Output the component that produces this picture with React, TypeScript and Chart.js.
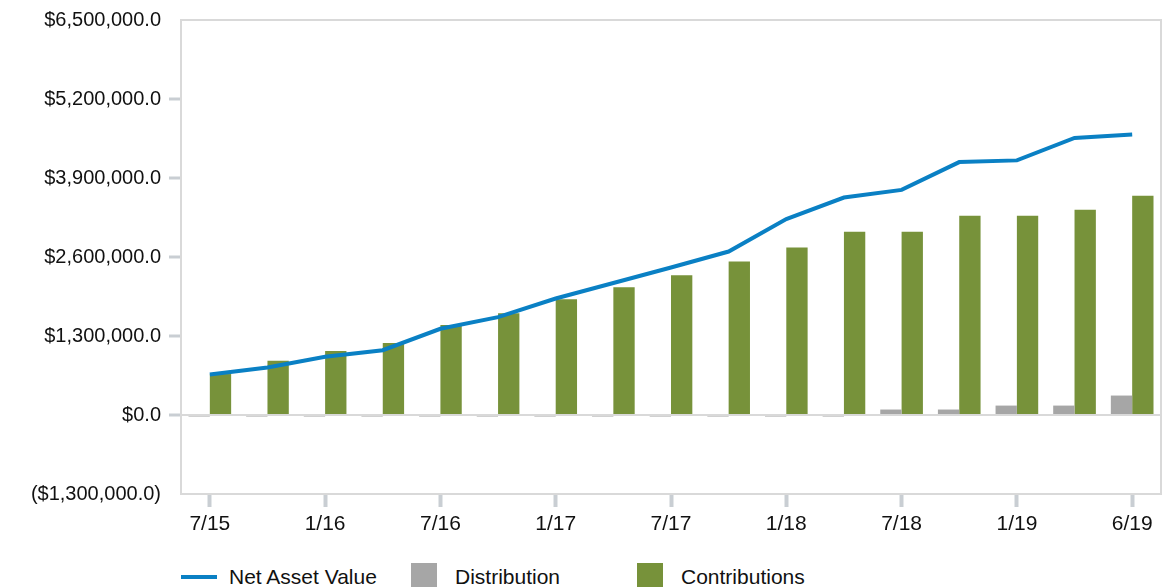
import React, { useEffect, useRef } from "react";
import { Chart, registerables } from "chart.js";

Chart.register(...registerables);

const categories = [
  "7/15", "10/15", "1/16", "4/16", "7/16", "10/16", "1/17", "4/17", "7/17",
  "10/17", "1/18", "4/18", "7/18", "10/18", "1/19", "4/19", "6/19",
];
// only every other category is labelled on the axis
const labelledIndex = [0, 2, 4, 6, 8, 10, 12, 14, 16];

const netAssetValue = [
  667000, 782000, 957000, 1066000, 1419000, 1611000, 1917000, 2172000, 2428000,
  2690000, 3225000, 3578000, 3704000, 4162000, 4190000, 4559000, 4615000,
];
const distribution = [
  -25000, -25000, -25000, -25000, -25000, -25000, -25000, -25000, -25000,
  -25000, -25000, -25000, 90000, 90000, 155000, 155000, 320000,
];
const contributions = [
  674000, 891000, 1055000, 1186000, 1480000, 1676000, 1905000, 2101000, 2298000,
  2527000, 2756000, 3017000, 3017000, 3279000, 3279000, 3377000, 3606000,
];

const yMin = -1300000;
const yMax = 6500000;
const yStep = 1300000;

const seriesNames = ["Net Asset Value", "Distribution", "Contributions"];
const colors = { nav: "#0a80c4", dist: "#a6a6a6", contrib: "#77923a" };

const FONT = "'Liberation Sans', Arial, Helvetica, sans-serif";

function formatMoney(v: number): string {
  const abs = Math.abs(v);
  const s =
    "$" +
    abs.toLocaleString("en-US", { minimumFractionDigits: 1, maximumFractionDigits: 1 });
  return v < 0 ? "(" + s + ")" : s;
}

const borderPlugin = {
  id: "plotBorder",
  beforeDatasetsDraw(chart: any) {
    const { ctx, chartArea } = chart;
    ctx.save();
    ctx.strokeStyle = "#d9d9d9";
    ctx.lineWidth = 2;
    ctx.strokeRect(chartArea.left, chartArea.top, chartArea.right - chartArea.left, chartArea.bottom - chartArea.top);
    ctx.restore();
  },
};

export default function App() {
  const canvasRef = useRef<HTMLCanvasElement | null>(null);

  useEffect(() => {
    if (!canvasRef.current) return;
    const chart = new Chart(canvasRef.current, {
      type: "bar",
      data: {
        labels: categories,
        datasets: [
          {
            type: "line",
            label: seriesNames[0],
            data: netAssetValue,
            borderColor: colors.nav,
            backgroundColor: colors.nav,
            borderWidth: 4,
            pointRadius: 0,
            tension: 0,
            order: 0,
          } as any,
          {
            type: "bar",
            label: seriesNames[1],
            data: distribution,
            backgroundColor: colors.dist,
            barPercentage: 1,
            categoryPercentage: 0.74,
            order: 1,
          },
          {
            type: "bar",
            label: seriesNames[2],
            data: contributions,
            backgroundColor: colors.contrib,
            barPercentage: 1,
            categoryPercentage: 0.74,
            order: 2,
          },
        ],
      },
      options: {
        responsive: false,
        animation: false,
        layout: { padding: { top: 17, right: 9, bottom: 0, left: 0 } },
        plugins: {
          legend: { display: false },
          tooltip: { enabled: false },
        },
        scales: {
          x: {
            offset: true,
            border: { display: false },
            grid: {
              offset: false,
              drawOnChartArea: false,
              drawTicks: true,
              tickLength: 13,
              tickWidth: 4,
              tickColor: (ctx: any) =>
                labelledIndex.includes(ctx.index) ? "#c9ced3" : "rgba(0,0,0,0)",
            } as any,
            ticks: {
              autoSkip: false,
              maxRotation: 0,
              padding: 5,
              color: "#111",
              font: { family: FONT, size: 21 },
              callback: (_v: any, i: number) => (labelledIndex.includes(i) ? categories[i] : ""),
            },
            afterFit: (scale: any) => {
              scale.height = 56;
            },
          },
          y: {
            min: yMin,
            max: yMax,
            border: { display: false },
            grid: {
              drawOnChartArea: true,
              color: (ctx: any) => (ctx.tick && ctx.tick.value === 0 ? "#d9d9d9" : "rgba(0,0,0,0)"),
              lineWidth: 2,
              tickLength: 12,
              tickWidth: 3,
              tickColor: (ctx: any) =>
                ctx.tick && (ctx.tick.value === yMin || ctx.tick.value === yMax)
                  ? "rgba(0,0,0,0)"
                  : "#c9ced3",
            } as any,
            ticks: {
              stepSize: yStep,
              padding: 8,
              color: "#111",
              font: { family: FONT, size: 20 },
              callback: (v: any) => formatMoney(Number(v)),
            },
            afterFit: (scale: any) => {
              scale.width = 181;
            },
          },
        },
      },
      plugins: [borderPlugin],
    });
    return () => chart.destroy();
  }, []);

  const legendText: React.CSSProperties = {
    position: "absolute",
    top: 564,
    fontFamily: FONT,
    fontSize: 21,
    lineHeight: "26px",
    color: "#111",
    whiteSpace: "nowrap",
  };

  return (
    <div
      style={{
        position: "fixed",
        left: 0,
        top: 0,
        width: 1170,
        height: 587,
        overflow: "hidden",
        background: "#fff",
      }}
    >
      <canvas ref={canvasRef} width={1170} height={550} style={{ display: "block" }} />
      <div style={{ position: "absolute", left: 181, top: 575, width: 36, height: 4, background: colors.nav }} />
      <div style={{ ...legendText, left: 229 }}>{seriesNames[0]}</div>
      <div style={{ position: "absolute", left: 411, top: 563, width: 26, height: 26, background: colors.dist }} />
      <div style={{ ...legendText, left: 455 }}>{seriesNames[1]}</div>
      <div style={{ position: "absolute", left: 637, top: 563, width: 26, height: 26, background: colors.contrib }} />
      <div style={{ ...legendText, left: 681 }}>{seriesNames[2]}</div>
    </div>
  );
}
